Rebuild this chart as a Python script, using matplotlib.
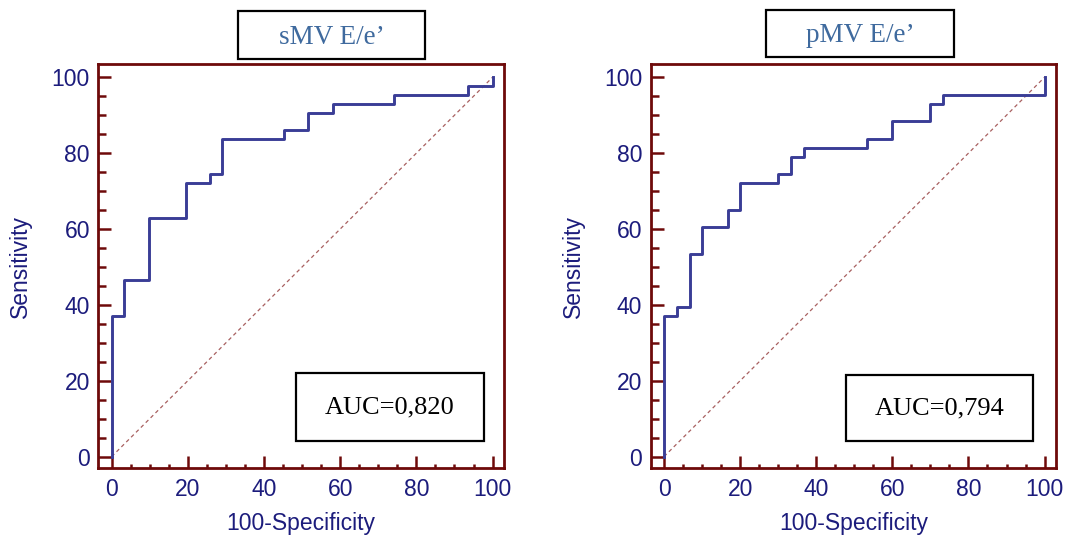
import matplotlib.pyplot as plt
from matplotlib.patches import Rectangle
from matplotlib.ticker import MultipleLocator

# ROC steps (100-Specificity, Sensitivity), drawn with steps-pre
SMV_FPR = [0, 3.2, 9.7, 19.4, 25.8, 29.0, 45.2, 51.6, 58.1, 74.2, 93.5, 100, 100]
SMV_TPR = [0, 37.2, 46.5, 62.8, 72.1, 74.4, 83.7, 86.0, 90.7, 93.0, 95.3, 97.7, 100]
PMV_FPR = [0, 3.3, 6.7, 10.0, 16.7, 20.0, 30.0, 33.3, 36.7, 53.3, 60.0, 70.0, 73.3, 100, 100]
PMV_TPR = [0, 37.2, 39.5, 53.5, 60.5, 65.1, 72.1, 74.4, 79.1, 81.4, 83.7, 88.4, 93.0, 95.3, 100]
TITLES = ['sMV E/e\u2019', 'pMV E/e\u2019']
AUCS = ['AUC=0,820', 'AUC=0,794']

W, H = 1068, 539
SPINE = '#6e0a0a'
NAVY = '#1c1c7c'
LINE = '#3a3d96'

plt.rcParams['font.family'] = ['Liberation Sans', 'DejaVu Sans']

fig = plt.figure(figsize=(W / 100, H / 100), dpi=100)


def px_box(x0, y0, x1, y1):
    # pixel box (top-left origin) -> figure fraction [left, bottom, width, height]
    return [x0 / W, 1 - y1 / H, (x1 - x0) / W, (y1 - y0) / H]


def draw_panel(axbox, fpr, tpr, title, titlebox, auc, aucbox):
    ax = fig.add_axes(px_box(*axbox))
    ax.plot([0, 100], [0, 100], color='#a86060', lw=0.9, dashes=(3, 2.5))
    ax.plot(fpr, tpr, drawstyle='steps-pre', color=LINE, lw=2.1)
    ax.set_xlim(-3.5, 103)
    ax.set_ylim(-3, 103.5)
    ax.xaxis.set_major_locator(MultipleLocator(20))
    ax.yaxis.set_major_locator(MultipleLocator(20))
    ax.xaxis.set_minor_locator(MultipleLocator(5))
    ax.yaxis.set_minor_locator(MultipleLocator(5))
    for s in ax.spines.values():
        s.set_color(SPINE)
        s.set_linewidth(2.0)
    ax.tick_params(which='both', direction='in', color=SPINE, width=1.8,
                   labelcolor=NAVY, labelsize=16.5)
    ax.tick_params(axis='x', which='major', length=8.5, pad=7)
    ax.tick_params(axis='y', which='major', length=9, pad=6)
    ax.tick_params(axis='x', which='minor', length=3.2)
    ax.tick_params(axis='y', which='minor', length=5.5)
    ax.set_xlabel('100-Specificity', color=NAVY, fontsize=16.5, labelpad=8)
    ax.set_ylabel('Sensitivity', color=NAVY, fontsize=16.5, labelpad=14)

    # AUC box inside the axes
    bx0, by0, bx1, by1 = aucbox
    ax.add_patch(Rectangle((bx0, by0), bx1 - bx0, by1 - by0, transform=ax.transAxes,
                           fill=False, ec='black', lw=1.6, zorder=5))
    ax.text((bx0 + bx1) / 2, (by0 + by1) / 2, auc, transform=ax.transAxes,
            ha='center', va='center', fontsize=19, family='Liberation Serif', zorder=6)

    # title box above the axes
    tx0, ty0, tx1, ty1 = titlebox
    l, b, w, h = px_box(tx0, ty0, tx1, ty1)
    fig.add_artist(Rectangle((l, b), w, h, transform=fig.transFigure,
                             fill=False, ec='black', lw=1.6))
    fig.text(l + w / 2, b + h / 2 - 0.004, title, ha='center', va='center',
             fontsize=19.5, color='#3f6a9e', family='Liberation Serif')


draw_panel((98.3, 64, 504, 468), SMV_FPR, SMV_TPR, TITLES[0], (238, 11, 425, 59),
           AUCS[0], (0.487, 0.067, 0.950, 0.235))
draw_panel((650.7, 64, 1056, 468), PMV_FPR, PMV_TPR, TITLES[1], (766, 10, 954, 57),
           AUCS[1], (0.482, 0.067, 0.943, 0.230))

fig.savefig('out.png', dpi=100)
